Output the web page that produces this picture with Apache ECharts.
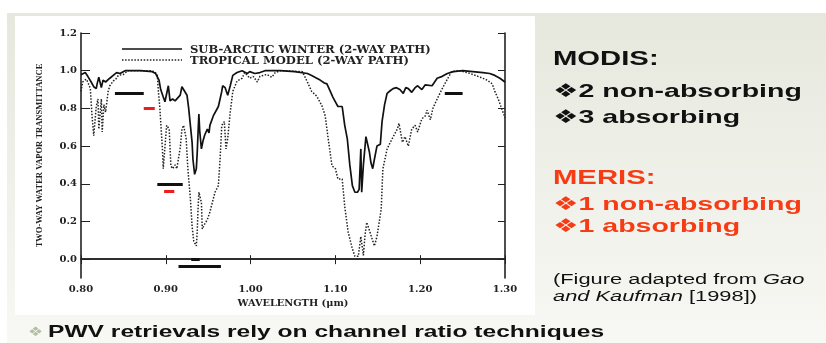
<!DOCTYPE html>
<html>
<head>
<meta charset="utf-8">
<script src="https://cdn.jsdelivr.net/npm/echarts@6/dist/echarts.min.js"></script>
<style>
html,body{margin:0;padding:0;background:#fff;}
#chart{width:826px;height:343px;}
</style>
</head>
<body>
<div id="chart"></div>
<script>
// ---- Data ----
var seriesNames = ['SUB-ARCTIC WINTER (2-WAY PATH)', 'TROPICAL MODEL (2-WAY PATH)'];

var arcticWl = [0.800,0.805,0.808,0.812,0.815,0.818,0.819,0.821,0.824,0.826,0.829,0.834,0.838,0.842,0.846,0.852,0.870,0.884,0.888,0.892,0.894,0.897,0.899,0.901,0.903,0.905,0.907,0.908,0.911,0.913,0.917,0.919,0.921,0.925,0.927,0.929,0.931,0.932,0.934,0.936,0.937,0.939,0.940,0.942,0.944,0.946,0.949,0.951,0.952,0.954,0.956,0.958,0.962,0.964,0.966,0.967,0.970,0.973,0.976,0.979,0.984,0.990,0.996,0.999,1.005,1.011,1.017,1.035,1.052,1.067,1.072,1.078,1.082,1.087,1.090,1.094,1.097,1.100,1.103,1.105,1.108,1.111,1.114,1.117,1.120,1.123,1.126,1.128,1.130,1.131,1.133,1.136,1.140,1.142,1.144,1.146,1.149,1.153,1.155,1.158,1.161,1.165,1.168,1.172,1.174,1.176,1.180,1.183,1.186,1.190,1.194,1.197,1.202,1.206,1.208,1.214,1.220,1.226,1.232,1.239,1.250,1.262,1.274,1.282,1.288,1.294,1.300];
var arcticT  = [0.979,0.990,0.970,0.940,0.915,0.905,0.930,0.965,0.910,0.950,0.940,0.960,0.975,0.990,0.985,1.000,1.000,0.995,0.985,0.950,0.900,0.860,0.835,0.840,0.920,0.840,0.830,0.850,0.840,0.830,0.870,0.915,0.905,0.870,0.800,0.710,0.620,0.530,0.450,0.480,0.560,0.770,0.680,0.585,0.630,0.660,0.690,0.670,0.710,0.720,0.760,0.750,0.810,0.850,0.890,0.920,0.910,0.870,0.920,0.975,0.990,1.000,0.985,0.995,0.985,0.990,1.000,1.000,0.995,0.985,0.975,0.960,0.950,0.935,0.930,0.890,0.860,0.835,0.810,0.820,0.810,0.710,0.640,0.500,0.390,0.355,0.355,0.370,0.585,0.355,0.500,0.650,0.570,0.510,0.480,0.530,0.600,0.610,0.730,0.820,0.880,0.895,0.905,0.910,0.915,0.900,0.880,0.910,0.905,0.885,0.910,0.920,0.900,0.925,0.935,0.920,0.960,0.970,0.985,0.995,1.000,0.995,0.990,0.985,0.975,0.960,0.940];

var tropicalWl = [0.800,0.802,0.806,0.808,0.811,0.813,0.815,0.818,0.820,0.821,0.824,0.825,0.827,0.829,0.832,0.834,0.838,0.841,0.844,0.850,0.855,0.881,0.887,0.890,0.891,0.893,0.896,0.897,0.899,0.901,0.904,0.906,0.908,0.911,0.913,0.917,0.919,0.921,0.924,0.926,0.929,0.931,0.933,0.936,0.937,0.938,0.939,0.942,0.943,0.945,0.949,0.952,0.956,0.958,0.962,0.964,0.966,0.969,0.971,0.973,0.976,0.979,0.984,0.990,0.993,0.999,1.003,1.008,1.011,1.019,1.025,1.029,1.035,1.061,1.067,1.072,1.078,1.084,1.088,1.091,1.096,1.100,1.103,1.108,1.111,1.115,1.120,1.123,1.127,1.130,1.133,1.135,1.137,1.141,1.146,1.149,1.154,1.156,1.161,1.167,1.173,1.175,1.179,1.182,1.186,1.190,1.194,1.197,1.202,1.206,1.208,1.212,1.215,1.220,1.226,1.232,1.237,1.247,1.259,1.271,1.279,1.285,1.288,1.292,1.296,1.300];
var tropicalT  = [0.890,0.940,0.955,0.940,0.905,0.760,0.655,0.810,0.850,0.690,0.850,0.675,0.820,0.780,0.890,0.920,0.945,0.955,0.975,0.980,1.000,1.000,0.995,0.975,0.905,0.800,0.585,0.480,0.470,0.710,0.690,0.495,0.480,0.500,0.480,0.590,0.690,0.710,0.640,0.480,0.320,0.175,0.095,0.070,0.140,0.265,0.355,0.300,0.160,0.180,0.210,0.250,0.320,0.355,0.390,0.530,0.710,0.730,0.585,0.640,0.780,0.890,0.945,0.960,0.990,0.960,0.970,0.940,0.970,0.980,0.965,0.990,1.000,0.995,0.940,0.890,0.865,0.815,0.760,0.655,0.495,0.480,0.425,0.425,0.280,0.145,0.055,0.015,0.015,0.120,0.020,0.130,0.195,0.140,0.070,0.120,0.265,0.480,0.585,0.640,0.690,0.720,0.620,0.650,0.600,0.690,0.710,0.675,0.745,0.760,0.790,0.740,0.800,0.850,0.905,0.955,0.995,1.000,0.985,0.965,0.950,0.930,0.890,0.850,0.800,0.750];

// channel positions: [startWl, endWl, transmittance-level]
var modisBands = [[0.840,0.874,0.88],[0.890,0.920,0.40],[0.930,0.940,0.00],[0.915,0.965,-0.04],[1.229,1.250,0.88]];
var merisBands = [[0.874,0.887,0.80],[0.898,0.910,0.36]];

var yTickValues = [0,0.2,0.4,0.6,0.8,1.0,1.2];

var modisLines = ['MODIS:', '\u27562 non-absorbing', '\u27563 absorbing'];
var merisLines = ['MERIS:', '\u27561 non-absorbing', '\u27561 absorbing'];
var footLine = 'PWV retrievals rely on channel ratio techniques';

// ---- Build ----
function zip(xs, ys){ var o=[]; for (var i=0;i<xs.length;i++) o.push([xs[i], ys[i]]); return o; }
function bands(list){ return list.map(function(b){ return {coords:[[b[0],b[2]],[b[1],b[2]]]}; }); }

var chart = echarts.init(document.getElementById('chart'), null, {renderer:'canvas'});
var serif = '"DejaVu Serif", "Liberation Serif", serif';
var sans = '"Liberation Sans", Arial, "DejaVu Sans", sans-serif';
var red = '#f73b14';
var solidStyle = {color:'#111', width:1.7};
var dotStyle = {color:'#222', width:1.5, dash:[1.5,1.6]};

function txt(x, y, text, font, fill, sx){
  return {type:'text', x:x, y:y, scaleX:sx||1, z:10,
    style:{text:text, x:0, y:0, font:font, fill:fill, align:'left', verticalAlign:'middle', textAlign:'left', textVerticalAlign:'middle'}};
}

var graphics = [
  {type:'rect', z:-10, shape:{x:7,y:13,width:819,height:330},
    style:{fill:new echarts.graphic.LinearGradient(0,0,0,1,[{offset:0,color:'#e6e8dd'},{offset:1,color:'#f8f8f4'}])}},
  {type:'rect', z:-9, shape:{x:15,y:16,width:520,height:299}, style:{fill:'#ffffff'}},
  // legend
  {type:'line', z:10, shape:{x1:122,y1:49,x2:182,y2:49}, style:{stroke:solidStyle.color, lineWidth:solidStyle.width}},
  {type:'line', z:10, shape:{x1:122,y1:60,x2:182,y2:60}, style:{stroke:dotStyle.color, lineWidth:dotStyle.width, lineDash:dotStyle.dash}},
  txt(190, 49.5, seriesNames[0], 'bold 11.6px ' + serif, '#222', 1),
  txt(190, 60.5, seriesNames[1], 'bold 11.6px ' + serif, '#222', 1),
  // right-side notes
  txt(553, 60, modisLines[0], 'bold 19.5px ' + sans, '#111', 1.5),
  txt(553, 91.5, modisLines[1], 'bold 19px ' + sans, '#111', 1.5),
  txt(553, 118, modisLines[2], 'bold 19px ' + sans, '#111', 1.5),
  txt(553, 179, merisLines[0], 'bold 19.5px ' + sans, red, 1.5),
  txt(553, 205, merisLines[1], 'bold 19px ' + sans, red, 1.5),
  txt(553, 227, merisLines[2], 'bold 19px ' + sans, red, 1.5),
  {type:'text', x:553, y:280, scaleX:1.56, z:10, style:{text:'{n|(Figure adapted from }{i|Gao}', x:0, y:0, align:'left', verticalAlign:'middle', textAlign:'left', textVerticalAlign:'middle',
    rich:{n:{font:'14px ' + sans, fill:'#111'}, i:{font:'italic 14px ' + sans, fill:'#111'}}}},
  {type:'text', x:553, y:297, scaleX:1.56, z:10, style:{text:'{i|and Kaufman}{n| [1998])}', x:0, y:0, align:'left', verticalAlign:'middle', textAlign:'left', textVerticalAlign:'middle',
    rich:{n:{font:'14px ' + sans, fill:'#111'}, i:{font:'italic 14px ' + sans, fill:'#111'}}}},
  txt(28, 333, '\u2756', '13px "DejaVu Sans", sans-serif', '#b3bea3', 1.3),
  txt(48, 333, footLine, 'bold 16.3px ' + sans, '#111', 1.51)
];

var axisLine = {show:true, lineStyle:{color:'#222', width:1.6}};
var tickLabelStyle = {fontFamily:serif, fontWeight:'bold', fontSize:10, color:'#222'};

var option = {
  backgroundColor:'#ffffff',
  animation:false,
  graphic:graphics,
  grid:{left:81, right:321, top:33, bottom:65, containLabel:false},
  xAxis:[
    {type:'value', min:0.8, max:1.3, interval:0.1, position:'bottom',
     name:'WAVELENGTH (\u03bcm)', nameLocation:'middle', nameGap:20,
     nameTextStyle:{fontFamily:serif, fontWeight:'bold', fontSize:9.8, color:'#222'},
     axisLine:axisLine, axisTick:{show:true, inside:true, length:4, lineStyle:{color:'#222', width:1}},
     axisLabel:Object.assign({margin:6, formatter:function(v){return v.toFixed(2);}}, tickLabelStyle),
     splitLine:{show:false}},
    {type:'value', min:0.8, max:1.3, interval:0.1, position:'top',
     axisLine:axisLine, axisTick:{show:true, inside:true, length:5, lineStyle:{color:'#222', width:1}},
     axisLabel:{show:false}, splitLine:{show:false}}
  ],
  yAxis:[
    {type:'value', min:-0.1, max:1.2, position:'left',
     name:'TWO-WAY WATER VAPOR TRANSMITTANCE', nameLocation:'middle', nameGap:37, nameRotate:90,
     nameTextStyle:{fontFamily:'"Liberation Serif", serif', fontWeight:'bold', fontSize:8.5, color:'#222'},
     axisLine:axisLine,
     axisTick:{show:true, inside:true, length:9, customValues:yTickValues, lineStyle:{color:'#222', width:1}},
     axisLabel:Object.assign({margin:4, customValues:yTickValues, formatter:function(v){return v.toFixed(1);}}, tickLabelStyle),
     splitLine:{show:false}},
    {type:'value', min:-0.1, max:1.2, position:'right',
     axisLine:axisLine,
     axisTick:{show:true, inside:true, length:7, customValues:yTickValues, lineStyle:{color:'#222', width:1}},
     axisLabel:{show:false, customValues:yTickValues}, splitLine:{show:false}}
  ],
  series:[
    {name:seriesNames[0], type:'line', data:zip(arcticWl, arcticT), symbol:'none', showSymbol:false,
     lineStyle:{color:solidStyle.color, width:solidStyle.width}, itemStyle:{color:'#111'}, z:5},
    {name:seriesNames[1], type:'line', data:zip(tropicalWl, tropicalT), symbol:'none', showSymbol:false,
     lineStyle:{color:dotStyle.color, width:dotStyle.width, type:dotStyle.dash}, itemStyle:{color:'#222'}, z:4},
    {name:'MODIS', type:'lines', coordinateSystem:'cartesian2d', data:bands(modisBands),
     lineStyle:{color:'#111', width:3, opacity:1}, z:6},
    {name:'MERIS', type:'lines', coordinateSystem:'cartesian2d', data:bands(merisBands),
     lineStyle:{color:'#ee1c1c', width:3, opacity:1}, z:6}
  ]
};
chart.setOption(option);
</script>
</body>
</html>
